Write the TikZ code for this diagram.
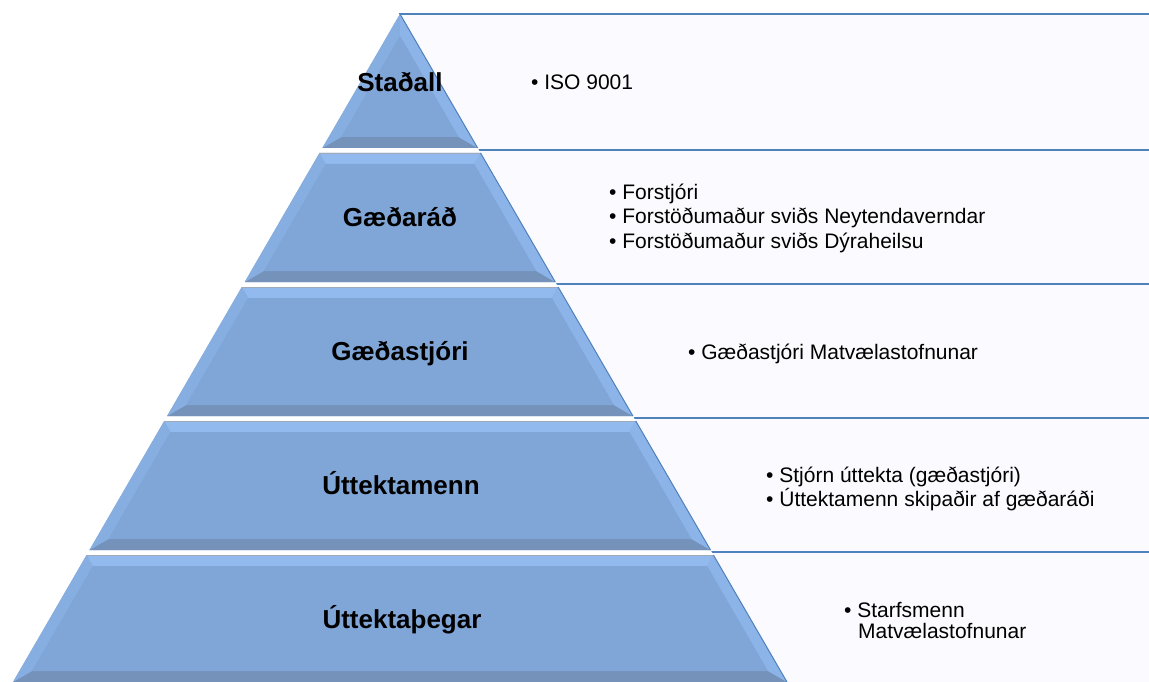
\documentclass[tikz,border=0pt]{standalone}
\usepackage{fontspec}
\setmainfont{Liberation Sans}
\definecolor{boxfill}{RGB}{251,250,254}
\definecolor{boxline}{RGB}{79,129,189}
\definecolor{pbase}{RGB}{128,166,215}
\definecolor{ptop}{RGB}{146,186,238}
\definecolor{pleft}{RGB}{135,174,225}
\definecolor{pright}{RGB}{140,180,232}
\definecolor{pbot}{RGB}{116,146,186}
\definecolor{psep}{RGB}{160,170,182}
\tikzset{
  rowbox/.style={fill=boxfill,draw=boxline,line width=1.6pt},
  lab/.style={anchor=base,inner sep=0pt,font=\fontsize{26}{30}\selectfont\bfseries},
  item/.style={anchor=base west,inner sep=0pt,font=\fontsize{21}{23}\selectfont},
}
\begin{document}
\begin{tikzpicture}[x=1pt,y=-1pt]
\useasboundingbox (0,0) rectangle (1149,682);
\clip (0,0) rectangle (1149,682);
\fill[white] (0,0) rectangle (1149,682);
% right-hand boxes
\foreach \t/\b in {14/150,150/284,284/418,418/552,552/700}
  \draw[rowbox] (400,\t) rectangle (1160,\b);
% pyramid underlay (gaps)
\def\s{0.5793}
\fill[white] (400,14) -- (400-\s*668,682) -- (400+\s*668,682) -- cycle;
% bands with bevels
\foreach \t/\b in {14/148,153/282,287/416,421/550,555/682} {
  \pgfmathsetmacro\xlt{400-\s*(\t-14)}
  \pgfmathsetmacro\xrt{400+\s*(\t-14)}
  \pgfmathsetmacro\xlb{400-\s*(\b-14)}
  \pgfmathsetmacro\xrb{400+\s*(\b-14)}
  \pgfmathsetmacro\ti{max(\t+11,14+12.7/\s)}
  \pgfmathsetmacro\bi{\b-11}
  \pgfmathsetmacro\xli{400-\s*(\ti-14)+12.7}
  \pgfmathsetmacro\xri{400+\s*(\ti-14)-12.7}
  \pgfmathsetmacro\xlib{400-\s*(\bi-14)+12.7}
  \pgfmathsetmacro\xrib{400+\s*(\bi-14)-12.7}
  \fill[pbase] (\xlt,\t) -- (\xrt,\t) -- (\xrb,\b) -- (\xlb,\b) -- cycle;
  \fill[ptop] (\xlt,\t) -- (\xrt,\t) -- (\xri,\ti) -- (\xli,\ti) -- cycle;
  \fill[pbot] (\xlb,\b) -- (\xrb,\b) -- (\xrib,\bi) -- (\xlib,\bi) -- cycle;
  \fill[pleft] (\xlt,\t) -- (\xli,\ti) -- (\xlib,\bi) -- (\xlb,\b) -- cycle;
  \fill[pright] (\xrt,\t) -- (\xri,\ti) -- (\xrib,\bi) -- (\xrb,\b) -- cycle;
  \fill[pbase] (\xli,\ti) -- (\xri,\ti) -- (\xrib,\bi) -- (\xlib,\bi) -- cycle;
  \draw[psep,line width=1pt] (\xlt,\t+0.5) -- (\xrt,\t+0.5);
  \draw[boxline,line width=1pt] (\xrt,\t) -- (\xrb,\b);
}
% pyramid labels
\node[lab] (l1) at (400,92)  {Staðall};
\node[lab] (l2) at (400,226) {Gæðaráð};
\node[lab] (l3) at (400,360) {Gæðastjóri};
\node[lab] (l4) at (401,494) {Úttektamenn};
\node[lab] (l5) at (402,628) {Úttektaþegar};
% right-hand texts
\node[item] (t1)  at (531,90)  {• ISO 9001};
\node[item] (t2a) at (609,199) {• Forstjóri};
\node[item] (t2b) at (609,223) {• Forstöðumaður sviðs Neytendaverndar};
\node[item] (t2c) at (609,248) {• Forstöðumaður sviðs Dýraheilsu};
\node[item] (t3)  at (688,359) {• Gæðastjóri Matvælastofnunar};
\node[item] (t4a) at (766,482) {• Stjórn úttekta (gæðastjóri)};
\node[item] (t4b) at (766,506) {• Úttektamenn skipaðir af gæðaráði};
\node[item] (t5a) at (844,617) {• Starfsmenn};
\node[item] (t5b) at (858,638) {Matvælastofnunar};
\end{tikzpicture}
\end{document}
